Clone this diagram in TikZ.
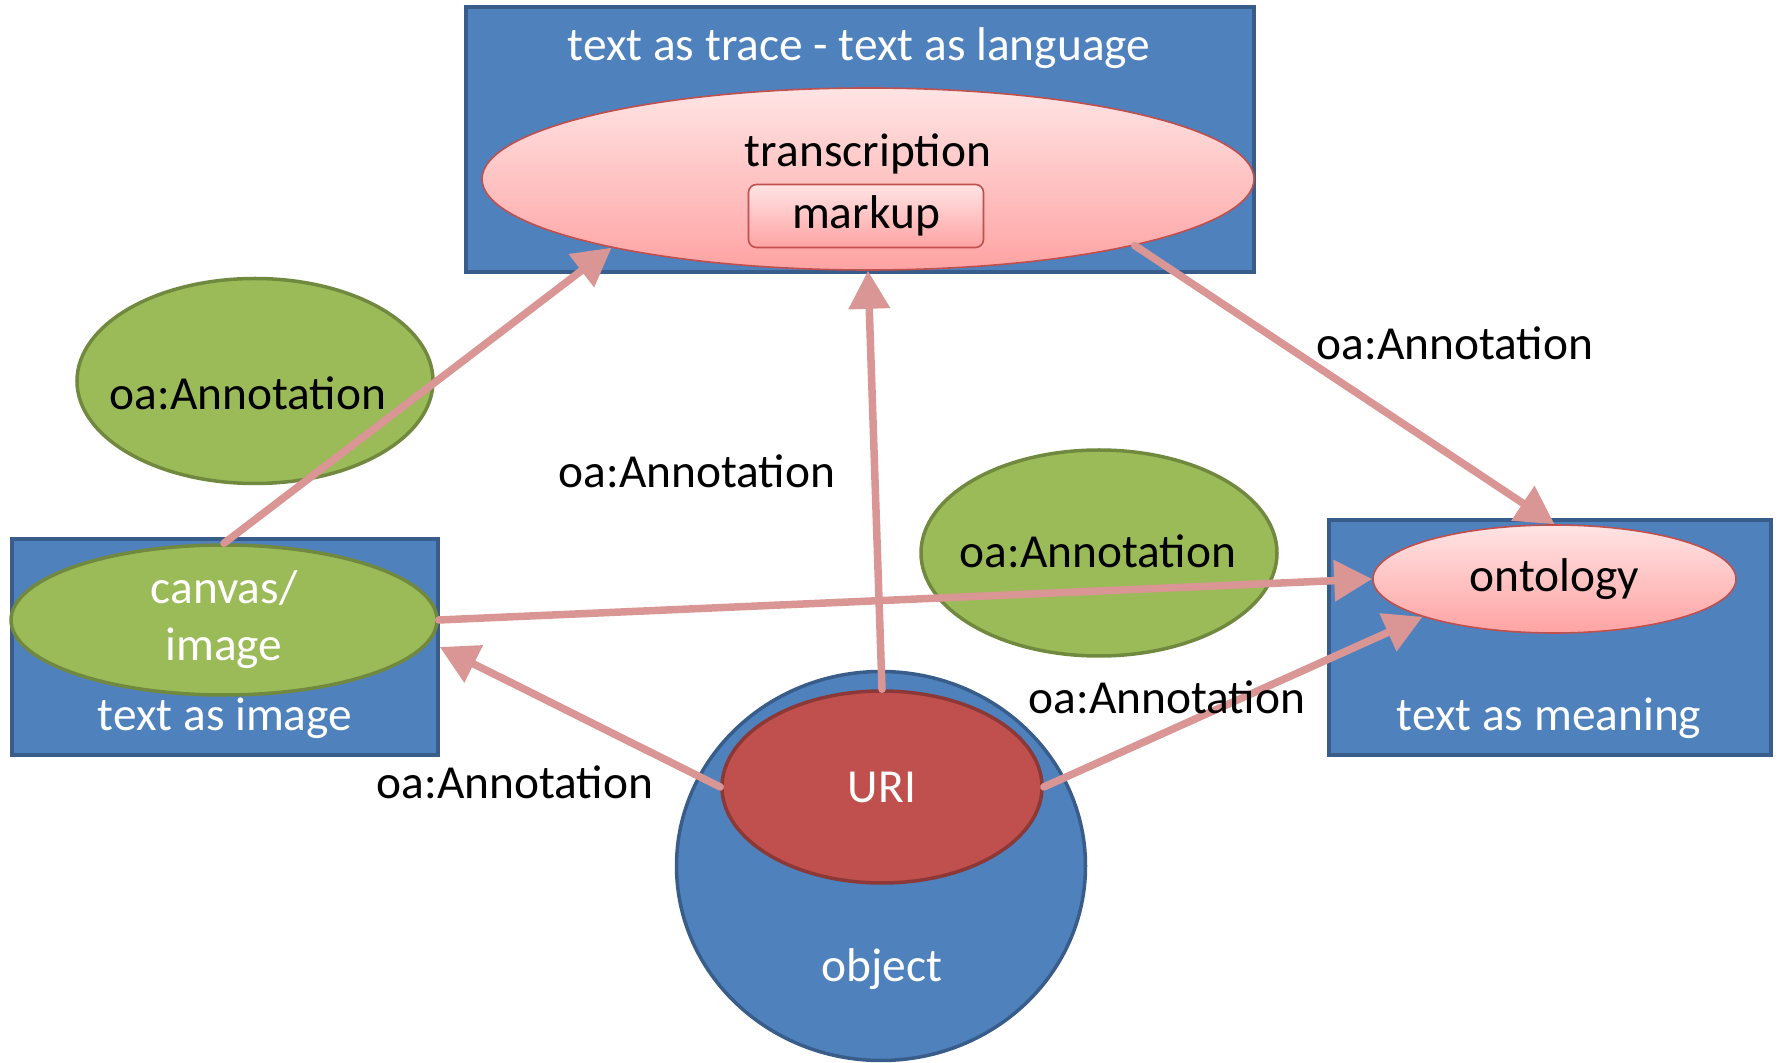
\documentclass[tikz,border=0pt]{standalone}
\usepackage{fontspec}
\setmainfont{Carlito}
\usepackage{tikz}
\usetikzlibrary{positioning}
\usetikzlibrary{calc}
\usetikzlibrary{arrows.meta}
\usetikzlibrary{shapes.geometric}

\definecolor{areablue}{RGB}{79,129,189}
\definecolor{areaborder}{RGB}{56,93,138}
\definecolor{annogreen}{RGB}{155,187,89}
\definecolor{annoborder}{RGB}{113,137,63}
\definecolor{linkpink}{RGB}{217,150,148}
\definecolor{pinktop}{RGB}{255,228,228}
\definecolor{pinkbottom}{RGB}{255,163,163}
\definecolor{pinkborder}{RGB}{192,80,77}
\definecolor{urired}{RGB}{192,80,77}
\definecolor{uriborder}{RGB}{140,56,54}

\tikzset{
	area/.style={draw=areaborder, line width=1.75pt, fill=areablue, inner sep=0pt},
	annotation/.style={ellipse, draw=annoborder, line width=1.75pt, fill=annogreen, inner sep=0pt},
	textpart/.style={ellipse, draw=pinkborder, line width=0.8pt, top color=pinktop, bottom color=pinkbottom, inner sep=0pt},
	oalink/.style={draw=linkpink, line width=3.75pt, line cap=round, -{Triangle[length=19pt,width=20pt]}},
	onarea/.style={text=white, inner sep=0pt}
}

\begin{document}
\begin{tikzpicture}[x=0.5pt, y=-0.5pt, font=\fontsize{23.7}{28.5}\selectfont]

\useasboundingbox (0,0) rectangle (1779,1063);

\node[
	area,
	minimum width=394pt,
	minimum height=132.5pt
] (tracearea) at (860,139.5) {};

\node[
	area,
	minimum width=213pt,
	minimum height=108pt
] (imagearea) at (225,647) {};

\node[
	area,
	minimum width=221pt,
	minimum height=117.5pt
] (meaningarea) at (1550,637.5) {};

\node[
	area,
	ellipse,
	minimum width=204.5pt,
	minimum height=194.5pt
] (object) at (881,866) {};

\node[onarea] (tracetitle) at (859,48) {text as trace - text as language};
\node[onarea] (imagetitle) at (225,718) {text as image};
\node[onarea] (meaningtitle) at (1549,718) {text as meaning};
\node[onarea] (objecttitle) at (882,969) {object};

\node[
	textpart,
	minimum width=386pt,
	minimum height=91pt
] (transcription) at (868,179) {};

\node (transcriptiontext) at (868,154) {transcription};

\node[
	draw=pinkborder,
	line width=0.8pt,
	top color=pinktop,
	bottom color=pinkbottom,
	rounded corners=4pt,
	minimum width=117.5pt,
	minimum height=31.5pt
] (markup) at (866,216) {markup};

\node[
	textpart,
	minimum width=181.5pt,
	minimum height=54pt
] (ontology) at (1554.5,579) {ontology};

\node[
	ellipse,
	draw=uriborder,
	line width=1.75pt,
	fill=urired,
	text=white,
	inner sep=0pt,
	minimum width=160pt,
	minimum height=96pt
] (uri) at (882,787) {URI};

\node[
	annotation,
	minimum width=178pt,
	minimum height=102.5pt
] (annoleft) at (255,381) {};
\node (annolefttext) at (248,393) {oa:Annotation};

\node[
	annotation,
	minimum width=178pt,
	minimum height=103pt
] (annomiddle) at (1099,553) {};
\node (annomiddletext) at (1098,551) {oa:Annotation};

\node[
	annotation,
	text=white,
	align=center,
	minimum width=213pt,
	minimum height=75pt
] (canvas) at (224,620) {canvas/\\image};

\draw[oalink] (canvas.north) -- (transcription.195);
\draw[oalink] (uri.north) -- (transcription.south);
\draw[oalink] (transcription.346) -- (ontology.north);
\draw[oalink] (canvas.east) -- (ontology.west);
\draw[oalink] (uri.west) -- (imagearea.east);
\draw[oalink] (uri.east) -- (ontology.196);

\node (linkvertical) at (697,471) {oa:Annotation};
\node (linkontology) at (1455,343) {oa:Annotation};
\node (linkuriontology) at (1167,697) {oa:Annotation};
\node (linkuriimage) at (515,782) {oa:Annotation};

\end{tikzpicture}
\end{document}
